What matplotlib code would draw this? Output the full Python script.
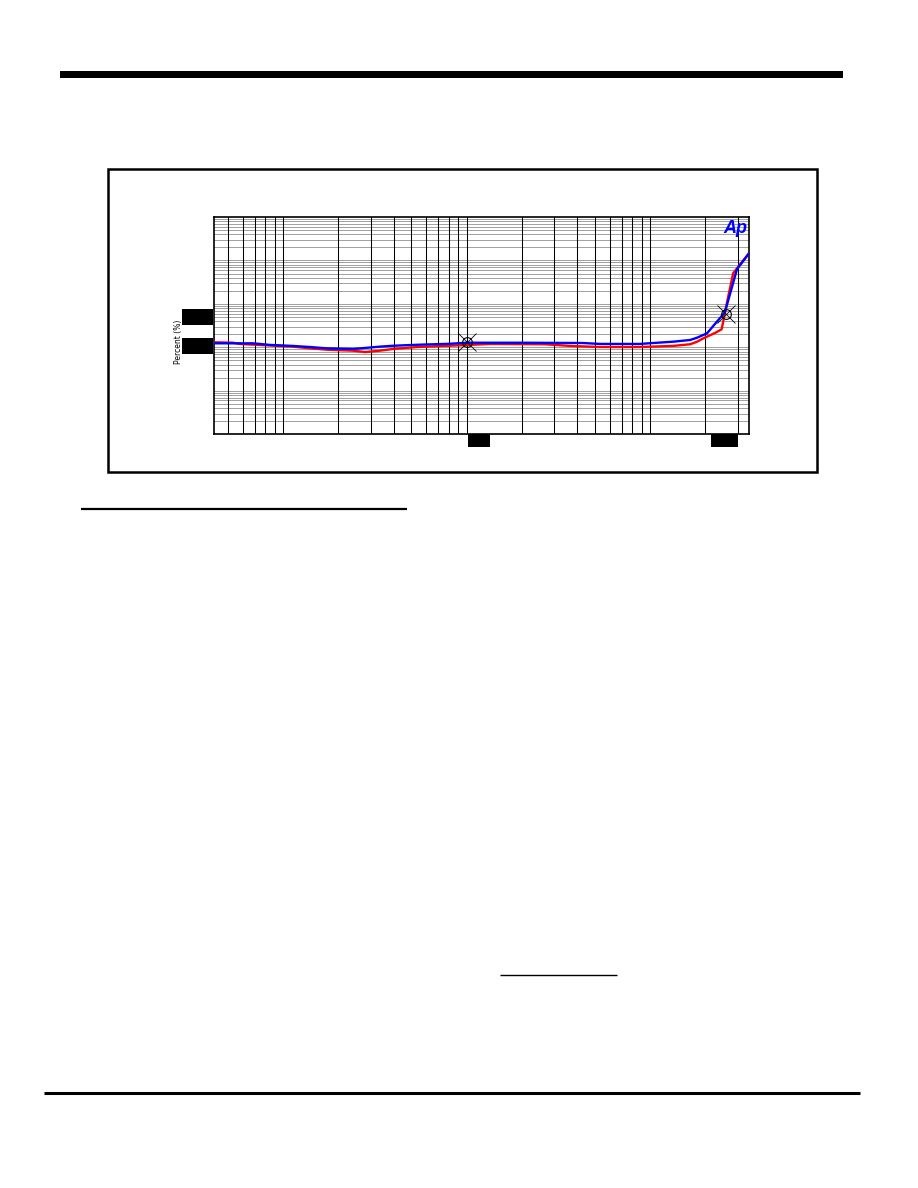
import matplotlib
matplotlib.use("Agg")
import matplotlib.pyplot as plt
from matplotlib.patches import Rectangle
from matplotlib.lines import Line2D
import numpy as np

# ---- data ----
blue_x = [0.00419, 0.00684, 0.00846, 0.01129, 0.01398, 0.0173, 0.0240, 0.0279,
          0.0337, 0.0396, 0.0542, 0.0809, 0.100, 0.195, 0.430, 0.532, 0.879,
          1.035, 1.33, 1.65, 1.80, 2.04, 2.55, 2.97, 3.44]
blue_y = [0.124, 0.124, 0.114, 0.108, 0.102, 0.095, 0.092, 0.097,
          0.104, 0.109, 0.115, 0.121, 0.128, 0.128, 0.126, 0.120, 0.120,
          0.126, 0.135, 0.148, 0.167, 0.211, 0.64, 6.3, 14.3]

red_x = [0.00419, 0.00532, 0.0058, 0.0113, 0.0140, 0.0173, 0.0240, 0.0279,
         0.0337, 0.0396, 0.0542, 0.0809, 0.134, 0.267, 0.365, 0.532, 0.879,
         1.33, 1.65, 1.80, 1.95, 2.25, 2.45, 2.55, 2.66, 2.83, 2.97, 3.44]
red_y = [0.131, 0.128, 0.120, 0.104, 0.095, 0.0885, 0.084, 0.078,
         0.084, 0.092, 0.102, 0.109, 0.120, 0.118, 0.108, 0.102, 0.102,
         0.108, 0.118, 0.135, 0.162, 0.214, 0.261, 0.61, 1.47, 5.07, 6.6, 14.3]

cursor_x = [0.100, 2.58]
cursor_y = [0.133, 0.587]

x_limits = (0.00418, 3.44)
y_limits = (0.001, 100)
y_label = "Percent (%)"
logo_text = "Ap"

# ---- figure ----
W, H = 918, 1188
fig = plt.figure(figsize=(W / 100, H / 100), dpi=100)


def fx(px):
    return px / W


def fy(py):
    return 1 - py / H


def frect(x0, y0, x1, y1, **kw):
    fig.add_artist(Rectangle((fx(x0), fy(y1)), fx(x1) - fx(x0), fy(y0) - fy(y1),
                             transform=fig.transFigure, **kw))


def fline(x0, x1, y, lw):
    fig.add_artist(Line2D([fx(x0), fx(x1)], [fy(y), fy(y)], transform=fig.transFigure,
                          color="black", linewidth=lw, solid_capstyle="butt"))


# page decorations
frect(60, 71, 843, 78, facecolor="black", edgecolor="none")
fline(81, 407, 509, 1.6)
fline(500, 617, 975, 1.0)
fline(44, 860, 1093, 2.2)

# outer chart frame
frect(108, 168.5, 817, 471.5, facecolor="none", edgecolor="black", linewidth=1.8)

# axes
ax_l, ax_r, ax_t, ax_b = 213.7, 748.7, 217.0, 434.3
ax = fig.add_axes([fx(ax_l), fy(ax_b), fx(ax_r) - fx(ax_l), fy(ax_t) - fy(ax_b)])
ax.set_xscale("log")
ax.set_yscale("log")
ax.set_xlim(*x_limits)
ax.set_ylim(*y_limits)

# grid
xt = []
for d in [0.001, 0.01, 0.1, 1.0]:
    for m in range(1, 10):
        v = d * m
        if x_limits[0] < v < x_limits[1]:
            xt.append(v)
for v in xt:
    ax.axvline(v, color="black", linewidth=0.75, zorder=1)
yt = []
for d in [0.001, 0.01, 0.1, 1.0, 10.0]:
    for m in range(1, 10):
        v = d * m
        if y_limits[0] < v < y_limits[1]:
            yt.append(v)
for v in yt:
    ax.axhline(v, color="#a0a0a0", linewidth=0.7, zorder=0.5)

ax.tick_params(which="both", length=0, labelbottom=False, labelleft=False)
for s in ax.spines.values():
    s.set_color("black")
    s.set_linewidth(1.2)

ax.plot(red_x, red_y, color="#ff0000", linewidth=1.7, zorder=3)
ax.plot(blue_x, blue_y, color="#0000ff", linewidth=1.7, zorder=4)

ax.plot(cursor_x, cursor_y, linestyle="none", marker="x", markersize=13,
        markeredgecolor="black", markeredgewidth=0.6, zorder=5)
ax.plot(cursor_x, cursor_y, linestyle="none", marker="o", markersize=7,
        markerfacecolor="none", markeredgecolor="black", markeredgewidth=0.8, zorder=5)

ax.text(0.998, 0.985, logo_text, transform=ax.transAxes, ha="right", va="top",
        color="#0000ff", fontsize=13, fontweight="bold", fontstyle="italic",
        family="Liberation Sans", zorder=6)

# y label
fig.text(fx(179), fy(342), y_label, rotation=90, ha="center", va="center",
         fontsize=5.5, color="black")

# redaction boxes over the tick labels
frect(182, 309, 213, 325, facecolor="black", edgecolor="none")
frect(182, 338, 213, 354, facecolor="black", edgecolor="none")
frect(467.5, 434.3, 490, 447.3, facecolor="black", edgecolor="none")
frect(711, 434.3, 737.7, 447.3, facecolor="black", edgecolor="none")

fig.savefig("out.png", dpi=100, facecolor="white")
